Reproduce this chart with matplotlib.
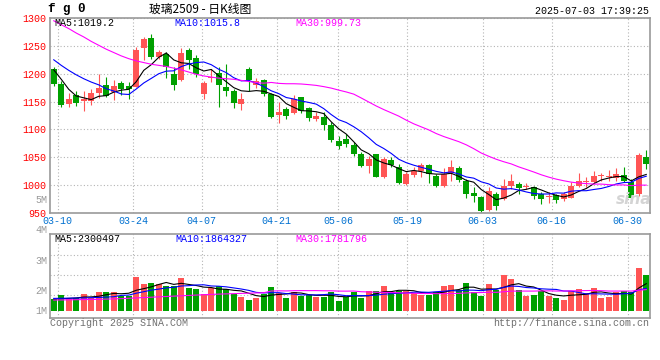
import matplotlib
matplotlib.use('Agg')
import matplotlib.pyplot as plt
import numpy as np
import pandas as pd

plt.rcParams['font.family'] = ['Liberation Mono', 'Noto Sans CJK SC', 'DejaVu Sans']

# daily K data, 80 trading days ending 07-02/07-03
opens = [1208.8, 1181.8, 1145.8, 1162, 1150.6, 1150.6, 1165, 1180, 1168, 1183.6,
         1178.8, 1177, 1246.6, 1264.6, 1229.8, 1235.8, 1198.6, 1189, 1241.8, 1228.6,
         1163.8, 1193, 1201, 1177, 1168.6, 1145.8, 1208.8, 1180.6, 1189, 1163.8,
         1126, 1136.8, 1129, 1157.8, 1138, 1118.8, 1123, 1108, 1079.8, 1082.8,
         1072.6, 1055.8, 1034.8, 1055.8, 1013.8, 1045.6, 1033, 1001.8, 1018, 1025.8,
         1036, 1016.8, 998.8, 1021, 1030.6, 1007.8, 985.6, 979, 955.6, 983.8,
         974.8, 998.8, 1001.8, 995.8, 995.8, 983.8, 979, 982, 974.8, 977.8,
         998.8, 1005.4, 1004.8, 1016, 1014.4, 1012.6, 1018.6, 1004.8, 983.8, 1051]
closes = [1181.8, 1144.6, 1154.8, 1147.6, 1154.8, 1165.6, 1174.6, 1160.8, 1178.8, 1172.8,
          1172.8, 1243, 1262.8, 1229.8, 1238.8, 1211.8, 1180.6, 1237, 1223.8, 1199.8,
          1183, 1194.6, 1180.6, 1169.8, 1147, 1154.8, 1189, 1187.8, 1163.8, 1123,
          1132, 1124.8, 1154.8, 1133.8, 1120.6, 1124.8, 1108, 1081, 1070.8, 1073.8,
          1055.8, 1034.8, 1046.8, 1015, 1046.8, 1036.6, 1003, 1019.8, 1025.8, 1036,
          1019.8, 997.6, 1019.8, 1033, 1009, 983.8, 980.8, 953.8, 988.6, 962.8,
          998.2, 1007.8, 994.6, 998.8, 980.8, 974.8, 981, 973.6, 983.8, 998.8,
          1006.6, 1007, 1016.8, 1017.4, 1016.2, 1019.8, 1006.6, 977.8, 1054, 1037.8]
highs = [1211.8, 1187.8, 1165, 1168.6, 1168.6, 1172.8, 1199.8, 1193.8, 1189, 1187.8,
         1184.8, 1247.8, 1265.8, 1271.8, 1241.8, 1238.8, 1211.8, 1246.6, 1246.6, 1232.8,
         1186.6, 1208.8, 1211.8, 1216.6, 1172.8, 1165, 1211.8, 1192.6, 1190.8, 1165,
         1148.8, 1139.8, 1162.6, 1159, 1139.8, 1130.8, 1130.8, 1112.8, 1088.8, 1091.8,
         1076.8, 1058.8, 1052.8, 1055.8, 1049.8, 1049.8, 1037.8, 1022.8, 1031.8, 1039,
         1037.8, 1019.8, 1030.6, 1045.6, 1034.8, 1010.8, 995.8, 980.8, 997, 986.8,
         1010.8, 1019.8, 1004.8, 1003, 998.8, 986.8, 986.8, 985, 986.8, 1004.8,
         1021, 1013.8, 1025.8, 1021, 1027.6, 1030.6, 1031.8, 1010.8, 1057, 1063]
lows = [1178.8, 1141, 1141, 1141.6, 1133.8, 1144.6, 1156.6, 1157.8, 1153, 1162.6,
        1154.8, 1175.8, 1223.8, 1226.8, 1226.8, 1192.6, 1171, 1187.8, 1208.8, 1195,
        1154.8, 1184.8, 1141, 1160.8, 1138.6, 1135.6, 1169.8, 1174.6, 1160.8, 1120.6,
        1111, 1118.8, 1127.8, 1129, 1115.8, 1115.8, 1099, 1078, 1064.8, 1069,
        1052.8, 1033, 1021, 1013.8, 1012.6, 1031.8, 1001.8, 1000.6, 1013.8, 1013.8,
        1003, 995.8, 997, 1007.8, 1004.8, 976.6, 970.6, 952.6, 953.8, 955,
        973, 992.8, 983.8, 992.8, 974.8, 965.8, 968.8, 968.8, 971.8, 976.6,
        997, 997, 1003, 1007.8, 1007.8, 1007.8, 1004.8, 973, 980.8, 1028.8]
# volume in millions
volumes = [1.01, 1.35, 1.01, 1.07, 1.43, 1.07, 1.63, 1.63, 1.63, 1.29,
           1.29, 2.89, 2.30, 2.38, 2.30, 2.13, 2.08, 2.75, 1.91, 1.85,
           1.46, 1.91, 2.08, 1.85, 1.40, 1.21, 0.93, 1.07, 1.46, 2.02,
           1.49, 1.12, 1.63, 1.29, 1.35, 1.18, 1.18, 1.57, 0.84, 1.21,
           1.57, 1.12, 1.68, 1.68, 2.10, 1.57, 1.68, 1.68, 1.49, 1.35,
           1.35, 1.63, 2.10, 2.19, 1.74, 2.36, 1.63, 1.26, 2.27, 1.74,
           3.03, 2.69, 1.77, 1.26, 1.35, 1.68, 1.29, 1.07, 0.93, 1.68,
           1.85, 1.49, 1.91, 1.12, 1.18, 1.57, 1.68, 1.57, 3.65, 3.03]

# moving averages at the start of the window (need data before the chart)
ma5_head = [1207, 1190, 1172, 1160]
ma10_head = [1225, 1215, 1206, 1198, 1191, 1185, 1180, 1173, 1169]
ma30_head = [1295, 1288, 1281, 1273, 1266, 1258, 1251, 1244, 1238, 1232,
             1227, 1223, 1220, 1217, 1215, 1213, 1210, 1207, 1203, 1199,
             1196, 1194, 1192, 1191, 1190, 1188, 1186, 1184, 1183]
vol_ma5_head = [1.0, 1.03, 1.06, 1.1]
vol_ma10_head = [1.06, 1.07, 1.08, 1.09, 1.10, 1.12, 1.14, 1.17, 1.2]
vol_ma30_head = [0.92, 0.93, 0.94, 0.95, 0.96, 0.97, 0.98, 1.0, 1.02, 1.04,
                 1.07, 1.1, 1.13, 1.16, 1.19, 1.22, 1.25, 1.28, 1.31, 1.34,
                 1.37, 1.4, 1.42, 1.44, 1.46, 1.48, 1.5, 1.52, 1.54]

tick_labels = ['03-10', '03-24', '04-07', '04-21', '05-06', '05-19', '06-03', '06-16', '06-30']
tick_x = [0.5, 10.6, 19.7, 29.7, 37.9, 47.1, 57.2, 66.4, 76.5]
price_ticks = [950, 1000, 1050, 1100, 1150, 1200, 1250, 1300]

RED = '#ff5555'
GREEN = '#00a000'
GRID = '#b4b4b4'
BORDER = '#9a9a9a'
TICKBLUE = '#0070d0'
W, H = 660, 360


def moving_avg(values, n, head):
    ma = pd.Series(values).rolling(n).mean().to_numpy()
    ma[:len(head)] = head
    return ma


def ftext(px, py, s, **kw):
    fig.text(px / W, 1 - py / H, s, **kw)


opens = np.array(opens)
closes = np.array(closes)
x = np.arange(len(closes))
cols = [RED if c >= o else GREEN for o, c in zip(opens, closes)]
body_lo = np.minimum(opens, closes)
body_h = np.maximum(np.abs(closes - opens), 1.6)

fig = plt.figure(figsize=(W / 100, H / 100), dpi=100)
ax = fig.add_axes([50 / W, 1 - 213 / H, 600 / W, 195 / H])
axv = fig.add_axes([50 / W, 1 - 318 / H, 600 / W, 84 / H])

# price panel
ax.vlines(x, lows, highs, colors=cols, lw=0.8)
ax.bar(x, body_h, bottom=body_lo, width=0.75, color=cols, linewidth=0)
ax.plot(x, moving_avg(closes, 5, ma5_head), color='black', lw=0.8)
ax.plot(x, moving_avg(closes, 10, ma10_head), color='#0000ff', lw=0.8)
ax.plot(x, moving_avg(closes, 30, ma30_head), color='#ff00ff', lw=0.8)
ax.set_ylim(950, 1300)
ax.set_yticks(price_ticks)
ax.set_yticklabels([str(t) for t in price_ticks], color='#ff0000', fontsize=7.2)
ax.set_xticks(tick_x)
ax.set_xticklabels(tick_labels, color=TICKBLUE, fontsize=7.2)

# volume panel
axv.bar(x, volumes, width=0.75, color=cols, linewidth=0)
axv.plot(x, moving_avg(volumes, 5, vol_ma5_head), color='black', lw=0.8)
axv.plot(x, moving_avg(volumes, 10, vol_ma10_head), color='#0000ff', lw=0.8)
axv.plot(x, moving_avg(volumes, 30, vol_ma30_head), color='#ff00ff', lw=0.8)
axv.set_ylim(-0.59, 6.48)
axv.set_yticks([1.35, 3.03, 4.71])
axv.set_yticklabels([])
axv.set_xticks(tick_x)
axv.set_xticklabels([])

for a in (ax, axv):
    a.set_xlim(-0.5, 79.5)
    a.grid(True, color=GRID, ls=(0, (1, 2)), lw=0.8)
    a.set_axisbelow(True)
    a.tick_params(length=0, pad=2.5)
    for s in a.spines.values():
        s.set_color(BORDER)
        s.set_linewidth(1.2)

# texts
ftext(48, 9, 'f g 0', fontsize=9, fontweight='bold', va='center')
ftext(200, 9, '玻璃2509 - 日K线图', family=['Noto Sans CJK SC'], fontsize=8.5, ha='center', va='center')
ftext(649, 11, '2025-07-03 17:39:25', fontsize=7.2, ha='right', va='center')
ftext(54, 23.5, 'MA5:1019.2', fontsize=7.2, va='center', color='black')
ftext(174, 23.5, 'MA10:1015.8', fontsize=7.2, va='center', color='#0000ff')
ftext(295, 23.5, 'MA30:999.73', fontsize=7.2, va='center', color='#ff00ff')
ftext(54, 238.5, 'MA5:2300497', fontsize=7.2, va='center', color='black')
ftext(175, 238.5, 'MA10:1864327', fontsize=7.2, va='center', color='#0000ff')
ftext(295, 238.5, 'MA30:1781796', fontsize=7.2, va='center', color='#ff00ff')
ftext(47, 200, '5M', fontsize=7.2, ha='right', va='center', color='#999999')
for py, s in [(230, '4M'), (261, '3M'), (291, '2M'), (311, '1M')]:
    ftext(47, py, s, fontsize=7.2, ha='right', va='center', color='#999999')
ftext(50, 323, 'Copyright 2025 SINA.COM', fontsize=7.2, va='center', color='#707070')
ftext(649, 323, 'http://finance.sina.com.cn', fontsize=7.2, ha='right', va='center', color='#707070')
ftext(634, 200, 'sina', family=['DejaVu Sans'], fontsize=11, fontweight='bold', style='italic',
      ha='center', va='center', color='#d4d4d4')

fig.savefig('out.png', dpi=100)
